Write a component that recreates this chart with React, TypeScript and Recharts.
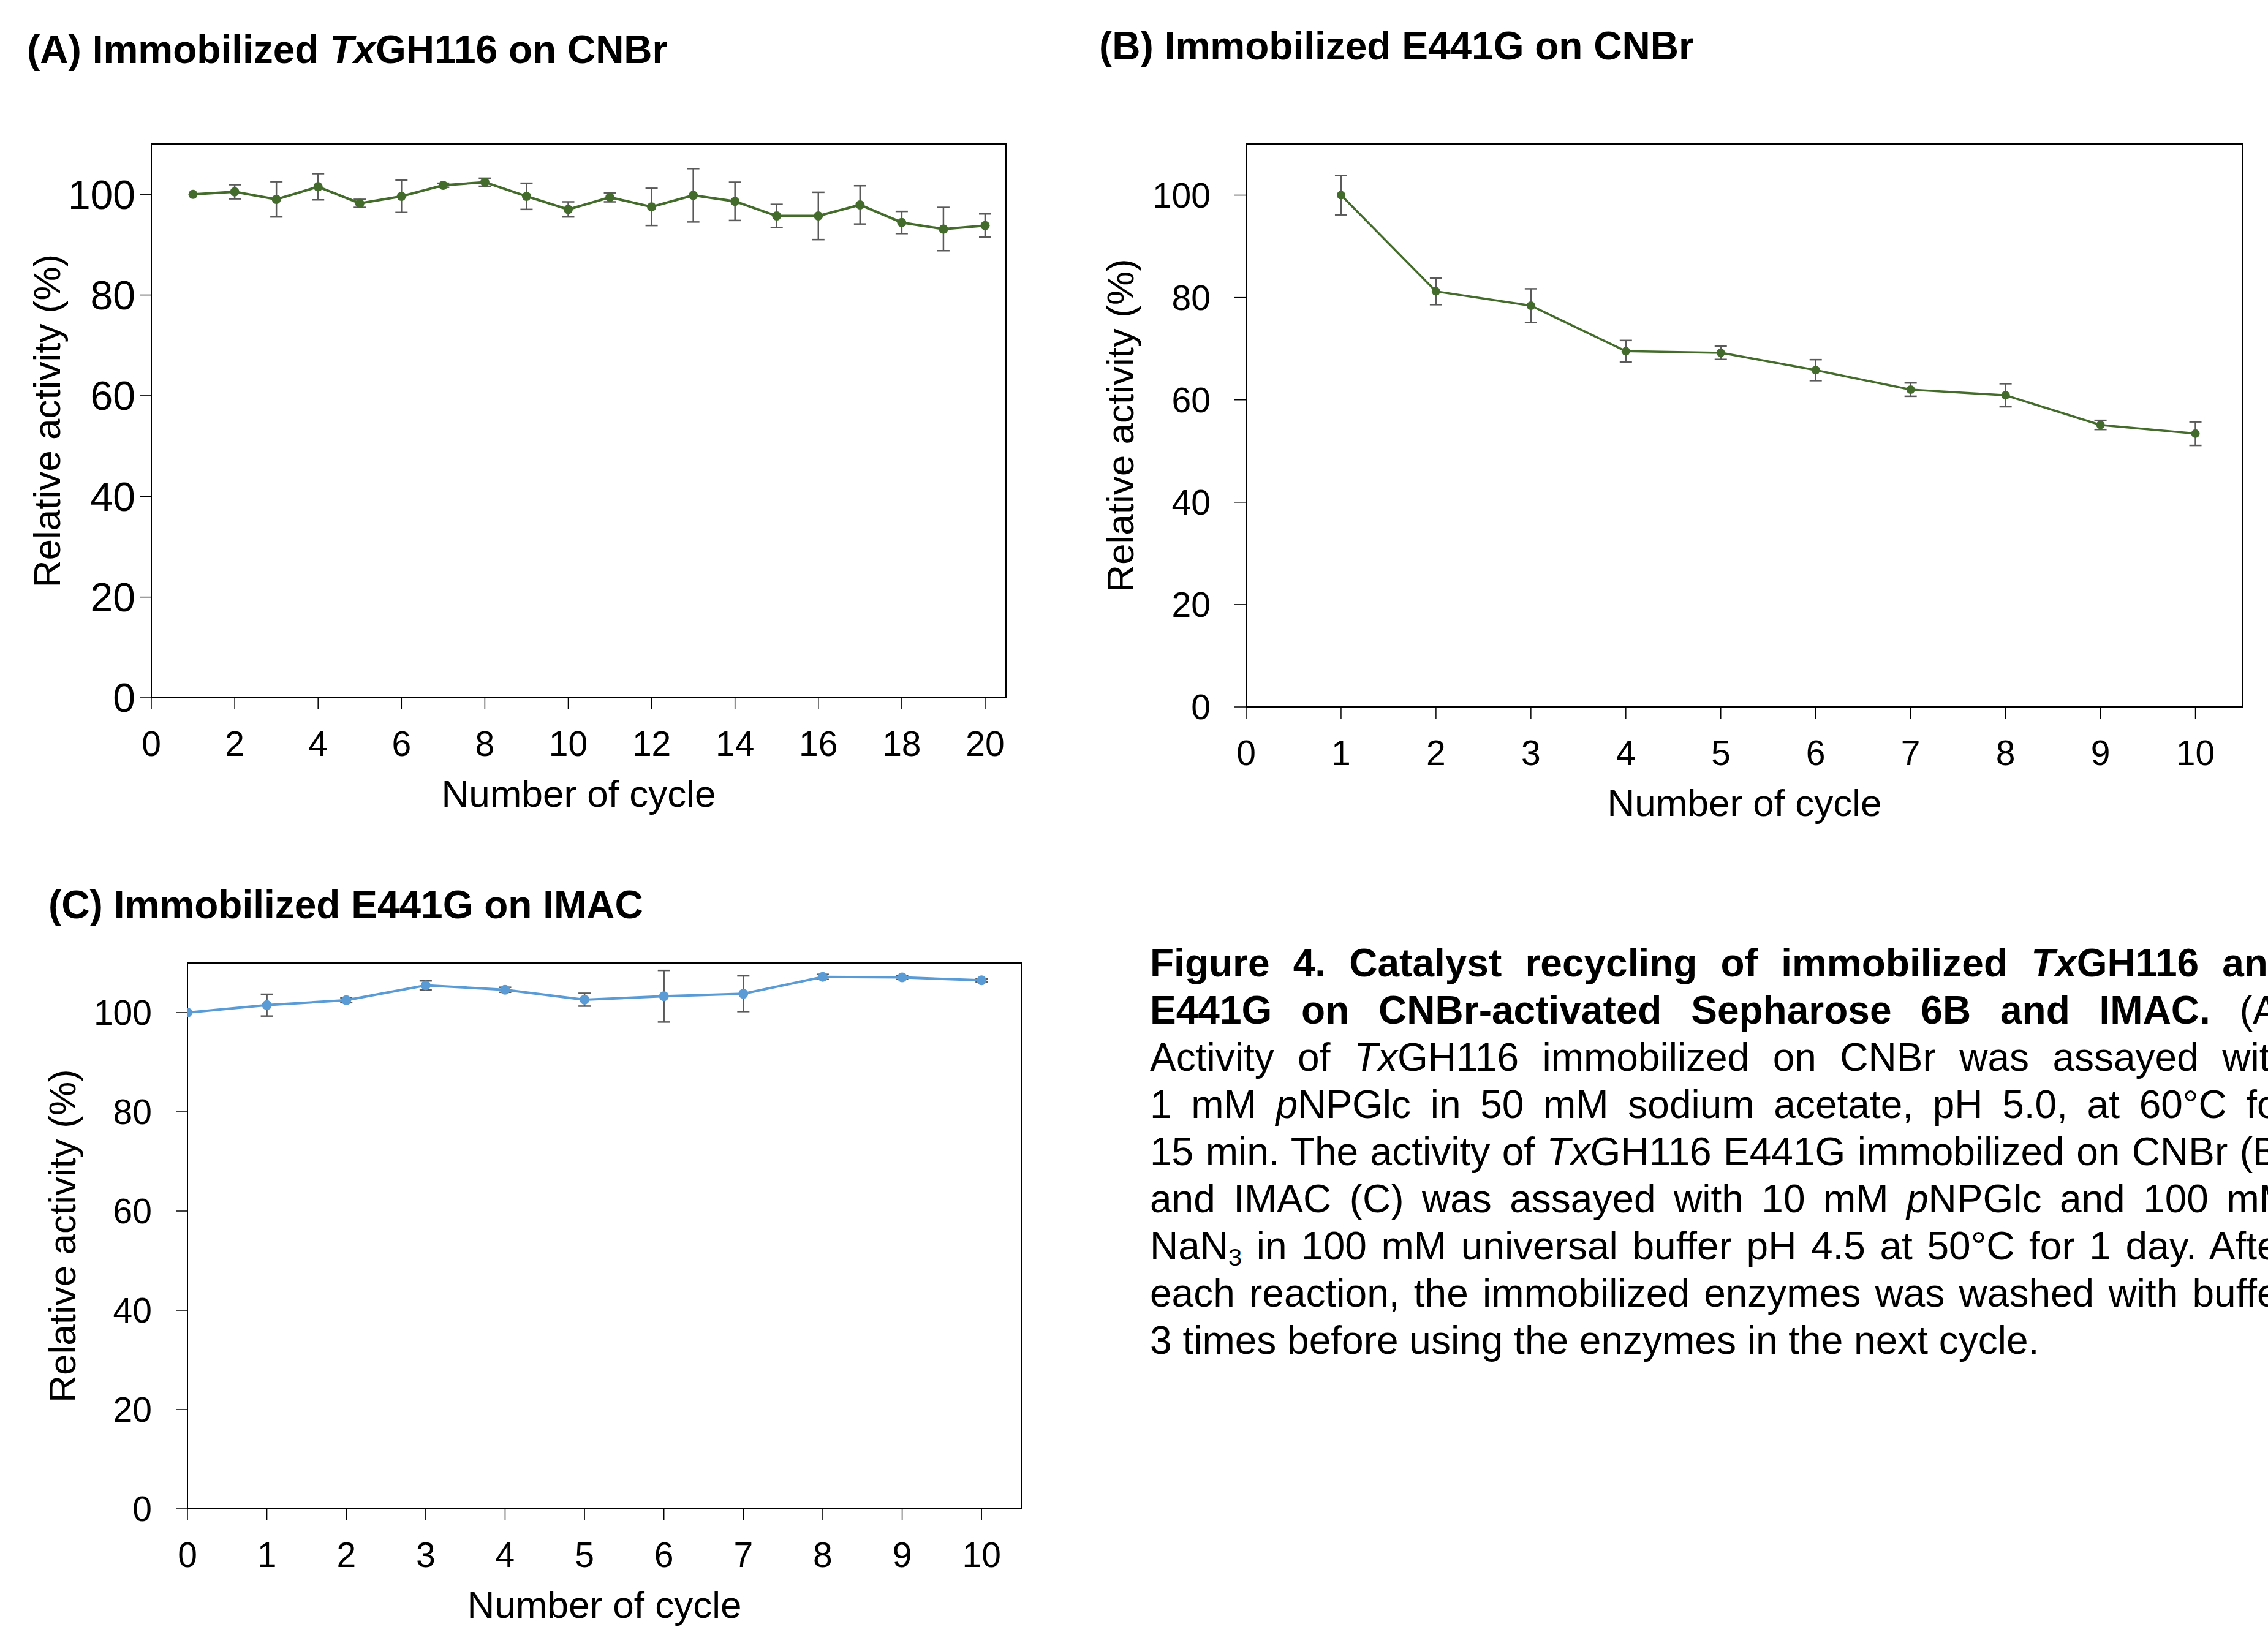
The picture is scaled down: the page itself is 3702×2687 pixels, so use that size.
import { LineChart, Line, XAxis, YAxis, ErrorBar, ReferenceArea } from 'recharts';

const FONT = '"Liberation Sans", Arial, Helvetica, sans-serif';
const GREEN = '#436b2b';
const BLUE = '#5b9bd5';
const BAR_GREY = '#5a5a5a';

// (A) TxGH116 on CNBr, 20 cycles
const cyclesA = [1, 2, 3, 4, 5, 6, 7, 8, 9, 10, 11, 12, 13, 14, 15, 16, 17, 18, 19, 20];
const activityA = [100, 100.5, 99.0, 101.5, 98.2, 99.6, 101.8, 102.4, 99.6, 97.0, 99.4, 97.5, 99.8, 98.6, 95.7, 95.7, 97.9, 94.4, 93.1, 93.8];
const sdA = [0, 1.4, 3.5, 2.6, 0.8, 3.2, 0.4, 0.8, 2.6, 1.5, 0.9, 3.7, 5.3, 3.8, 2.3, 4.7, 3.8, 2.2, 4.3, 2.3];
const xTicksA = [0, 2, 4, 6, 8, 10, 12, 14, 16, 18, 20];

// (B) E441G on CNBr, 10 cycles
const cyclesB = [1, 2, 3, 4, 5, 6, 7, 8, 9, 10];
const activityB = [100, 81.2, 78.4, 69.5, 69.2, 65.8, 62.0, 60.9, 55.1, 53.4];
const sdB = [3.85, 2.6, 3.3, 2.1, 1.3, 2.05, 1.3, 2.25, 0.9, 2.3];

// (C) E441G on IMAC, cycles 0-10
const cyclesC = [0, 1, 2, 3, 4, 5, 6, 7, 8, 9, 10];
const activityC = [100, 101.5, 102.5, 105.5, 104.6, 102.6, 103.3, 103.8, 107.2, 107.1, 106.5];
const sdC = [0, 2.2, 0.5, 0.9, 0.5, 1.3, 5.2, 3.6, 0.5, 0.4, 0.3];

const xTicks10 = [0, 1, 2, 3, 4, 5, 6, 7, 8, 9, 10];
const yTicks = [0, 20, 40, 60, 80, 100];

const toRows = (cycles: number[], activity: number[], sd: number[]) =>
  cycles.map((cycle, i) => ({ cycle, activity: activity[i], sd: sd[i] }));

interface PanelProps {
  data: { cycle: number; activity: number; sd: number }[];
  color: string;
  xMax: number;
  xTicks: number[];
  left: number;
  top: number;
  yAxisWidth: number;
  plotWidth: number;
  plotHeight: number;
  marginTop: number;
  yTickMargin: number;
  yTickSize: number;
  yTitleX: number;
  dotR: number;
  lineWidth: number;
}

function CyclePanel(p: PanelProps) {
  const width = p.yAxisWidth + p.plotWidth + 30;
  const height = p.marginTop + p.plotHeight + 200;
  return (
    <div style={{ position: 'absolute', left: p.left, top: p.top }}>
      <LineChart
        width={width}
        height={height}
        data={p.data}
        margin={{ top: p.marginTop, right: 30, bottom: 0, left: 0 }}
      >
        <ReferenceArea
          x1={0}
          x2={p.xMax}
          y1={0}
          y2={110}
          fill="none"
          stroke="#000"
          strokeWidth={2}
          ifOverflow="visible"
        />
        <XAxis
          dataKey="cycle"
          type="number"
          domain={[0, p.xMax]}
          ticks={p.xTicks}
          interval={0}
          allowDataOverflow
          height={200}
          tickSize={19}
          tickMargin={36}
          axisLine={{ stroke: '#000', strokeWidth: 2 }}
          tickLine={{ stroke: '#000', strokeWidth: 1.5 }}
          tick={{ fill: '#000', fontSize: 57, fontFamily: FONT }}
          label={{
            value: 'Number of cycle',
            position: 'insideBottom',
            offset: 22,
            fill: '#000',
            fontSize: 62,
            fontFamily: FONT,
          }}
        />
        <YAxis
          type="number"
          domain={[0, 110]}
          ticks={yTicks}
          interval={0}
          allowDataOverflow
          width={p.yAxisWidth}
          tickSize={19}
          tickMargin={p.yTickMargin}
          axisLine={{ stroke: '#000', strokeWidth: 2 }}
          tickLine={{ stroke: '#000', strokeWidth: 1.5 }}
          tick={{ fill: '#000', fontSize: p.yTickSize, fontFamily: FONT }}
          label={{
            value: 'Relative activity (%)',
            angle: -90,
            position: 'insideLeft',
            offset: p.yTitleX,
            style: { textAnchor: 'middle' },
            fill: '#000',
            fontSize: 62,
            fontFamily: FONT,
          }}
        />
        <Line
          type="linear"
          dataKey="activity"
          stroke={p.color}
          strokeWidth={p.lineWidth}
          dot={{ r: p.dotR, fill: p.color, stroke: p.color, strokeWidth: 0 }}
          activeDot={false}
          isAnimationActive={false}
        >
          <ErrorBar dataKey="sd" direction="y" width={10} stroke={BAR_GREY} strokeWidth={2.5} />
        </Line>
      </LineChart>
    </div>
  );
}

const titleStyle: React.CSSProperties = {
  position: 'absolute',
  fontFamily: FONT,
  fontWeight: 'bold',
  fontSize: 64,
  lineHeight: 1,
  whiteSpace: 'nowrap',
  color: '#000',
};

const capLine: React.CSSProperties = {
  width: 1864,
  textAlign: 'justify',
  textAlignLast: 'justify',
  whiteSpace: 'normal',
  height: 77,
  overflow: 'visible',
};

export default function App() {
  return (
    <div
      style={{
        position: 'fixed',
        left: 0,
        top: 0,
        width: 3702,
        height: 2687,
        overflow: 'hidden',
        background: '#fff',
        fontFamily: FONT,
        color: '#000',
      }}
    >
      <div style={{ ...titleStyle, left: 44, top: 49 }}>
        (A) Immobilized <i>Tx</i>GH116 on CNBr
      </div>
      <div style={{ ...titleStyle, left: 1794, top: 43 }}>(B) Immobilized E441G on CNBr</div>
      <div style={{ ...titleStyle, left: 79, top: 1445 }}>(C) Immobilized E441G on IMAC</div>

      <CyclePanel
        data={toRows(cyclesA, activityA, sdA)}
        color={GREEN}
        xMax={20.5}
        xTicks={xTicksA}
        left={0}
        top={200}
        yAxisWidth={247}
        plotWidth={1395}
        plotHeight={904}
        marginTop={35}
        yTickMargin={7}
        yTickSize={66}
        yTitleX={76}
        dotR={7.5}
        lineWidth={4}
      />
      <CyclePanel
        data={toRows(cyclesB, activityB, sdB)}
        color={GREEN}
        xMax={10.5}
        xTicks={xTicks10}
        left={1780}
        top={200}
        yAxisWidth={254}
        plotWidth={1627}
        plotHeight={919}
        marginTop={35}
        yTickMargin={39}
        yTickSize={57}
        yTitleX={48}
        dotR={7}
        lineWidth={3.5}
      />
      <CyclePanel
        data={toRows(cyclesC, activityC, sdC)}
        color={BLUE}
        xMax={10.5}
        xTicks={xTicks10}
        left={0}
        top={1500}
        yAxisWidth={306}
        plotWidth={1361}
        plotHeight={891}
        marginTop={72}
        yTickMargin={39}
        yTickSize={57}
        yTitleX={101}
        dotR={8}
        lineWidth={4}
      />

      <div
        style={{
          position: 'absolute',
          left: 1877,
          top: 1534,
          fontSize: 64,
          lineHeight: '77px',
        }}
      >
        <div style={{ ...capLine, fontWeight: 'bold' }}>
          Figure 4. Catalyst recycling of immobilized <i>Tx</i>GH116 and
        </div>
        <div style={capLine}>
          <b>E441G on CNBr-activated Sepharose 6B and IMAC.</b> (A)
        </div>
        <div style={capLine}>
          Activity of <i>Tx</i>GH116 immobilized on CNBr was assayed with
        </div>
        <div style={capLine}>
          1 mM <i>p</i>NPGlc in 50 mM sodium acetate, pH 5.0, at 60°C for
        </div>
        <div style={capLine}>
          15 min. The activity of <i>Tx</i>GH116 E441G immobilized on CNBr (B)
        </div>
        <div style={capLine}>
          and IMAC (C) was assayed with 10 mM <i>p</i>NPGlc and 100 mM
        </div>
        <div style={capLine}>
          NaN<span style={{ fontSize: '0.62em', verticalAlign: '-0.25em', lineHeight: 0 }}>3</span> in 100
          mM universal buffer pH 4.5 at 50°C for 1 day. After
        </div>
        <div style={capLine}>
          each reaction, the immobilized enzymes was washed with buffer
        </div>
        <div style={{ ...capLine, textAlignLast: 'left' }}>
          3 times before using the enzymes in the next cycle.
        </div>
      </div>
    </div>
  );
}
